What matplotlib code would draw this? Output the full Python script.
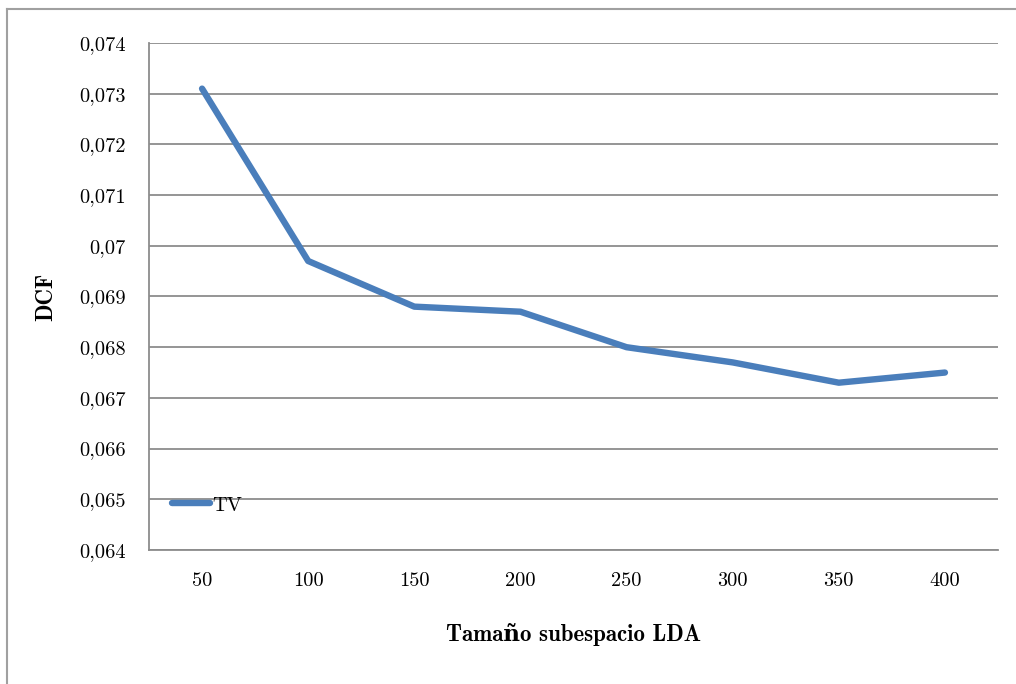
import matplotlib
matplotlib.use('Agg')
import matplotlib.pyplot as plt
from matplotlib.lines import Line2D
from matplotlib.ticker import FuncFormatter, MultipleLocator

# DCF en función del tamaño del subespacio LDA
SIZES = ['50', '100', '150', '200', '250', '300', '350', '400']
DCF_TV = [0.0731, 0.0697, 0.0688, 0.0687, 0.0680, 0.0677, 0.0673, 0.0675]
SERIES = 'TV'

BLUE = '#4A7EBB'
GREY = '#8C8C8C'

plt.rcParams['font.family'] = ['cmr10', 'DejaVu Serif']
plt.rcParams['axes.formatter.use_mathtext'] = False

fig = plt.figure(figsize=(10.16, 6.84), dpi=100)
ax = fig.add_axes([149 / 1016, 1 - 550 / 684, 849 / 1016, 507 / 684])

x = range(len(SIZES))
ax.plot(x, DCF_TV, color=BLUE, lw=4.6, solid_capstyle='round',
        solid_joinstyle='round', label=SERIES, zorder=3)

ax.set_xlim(-0.5, len(SIZES) - 0.5)
ax.set_ylim(0.064, 0.074)
ax.yaxis.set_major_locator(MultipleLocator(0.001))
ax.yaxis.set_major_formatter(
    FuncFormatter(lambda v, _: f'{v:.3f}'.rstrip('0').replace('.', ',')))
ax.set_xticks(list(x))
ax.set_xticklabels(SIZES)

ax.grid(axis='y', color=GREY, lw=1.3)
ax.set_axisbelow(True)
for side in ('top', 'right'):
    ax.spines[side].set_visible(False)
for side in ('left', 'bottom'):
    ax.spines[side].set_color(GREY)
    ax.spines[side].set_linewidth(1.3)
ax.tick_params(length=0, labelsize=14.7, colors='black')
ax.tick_params(axis='y', pad=16.5)
ax.tick_params(axis='x', pad=16)

bold = ['cmb10', 'DejaVu Serif']
ax.set_xlabel('Tamaño subespacio LDA', fontsize=16.5, family=bold,
              fontweight='bold', labelpad=24)
ax.set_ylabel('DCF', fontsize=16.5, family=bold, fontweight='bold',
              labelpad=16)

ax.legend(loc='center left', bbox_to_anchor=(0.027, 0.088), frameon=False,
          fontsize=14.7, handlelength=1.85, handletextpad=0.12,
          borderpad=0, borderaxespad=0)

# marco gris del gráfico
fig.add_artist(Line2D([7 / 1016, 7 / 1016], [0, 1 - 9 / 684],
                      color='#A0A0A0', lw=1.5))
fig.add_artist(Line2D([7 / 1016, 1], [1 - 9 / 684, 1 - 9 / 684],
                      color='#A0A0A0', lw=1.5))

fig.savefig('out.png', dpi=100)
